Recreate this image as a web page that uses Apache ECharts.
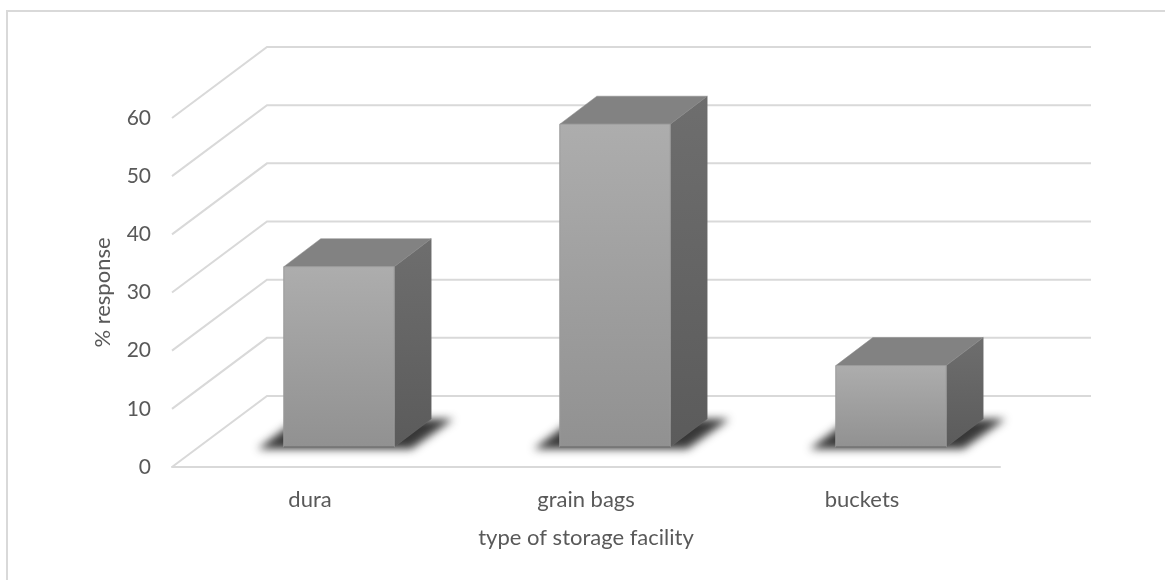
<!DOCTYPE html>
<html>
<head>
<meta charset="utf-8">
<style>html,body{margin:0;padding:0;background:#fff}#chart{width:1165px;height:580px}</style>
<script src="https://cdn.jsdelivr.net/npm/echarts@6/dist/echarts.min.js"></script>
</head>
<body>
<div id="chart"></div>
<script>
// Storage facility survey, drawn as a pseudo-3D column chart.
var categories = ['dura', 'grain bags', 'buckets'];
var responses = [31, 55.5, 14];
var wallTicks = [0, 10, 20, 30, 40, 50, 60];

// Oblique projection: how far the back wall sits from the front plane.
var WALL_DX = 95, WALL_DY = -71;
// Columns stand partway into the floor and have their own depth.
var BAR_SHIFT_X = 29, BAR_SHIFT_Y = -20;
var BAR_DX = 37, BAR_DY = -28;
var BAR_WIDTH_RATIO = 0.4;
// The floor shadow is painted away from the canvas so only its blurred copy lands on the floor.
var SHADOW_SHIFT = 3000;

var TEXT = '#595959', GRID = '#d9d9d9', FONT = 'Lato, sans-serif';

function poly(points, style, z2) {
  return { type: 'polygon', shape: { points: points }, style: style, z2: z2 || 0, silent: true };
}
function vGrad(a, b) {
  return new echarts.graphic.LinearGradient(0, 0, 0, 1, [
    { offset: 0, color: a }, { offset: 1, color: b }
  ]);
}

function renderWall(params, api) {
  var value = api.value(0);
  var front = api.coord([0, value]);
  var xStart = params.coordSys.x;
  var xEnd = xStart + params.coordSys.width;
  return {
    type: 'polyline',
    silent: true,
    shape: { points: [
      [xStart, front[1]],
      [xStart + WALL_DX, front[1] + WALL_DY],
      [xEnd + WALL_DX - 4, front[1] + WALL_DY]
    ] },
    style: { stroke: GRID, lineWidth: 2, fill: null }
  };
}

function floorShadow(l, r, b, dy) {
  var pts = [
    [l - 26, b + 2],
    [r + 17, b + 2],
    [r + BAR_DX + 22, b + dy],
    [l + 14, b + dy]
  ].map(function (p) { return [p[0] - SHADOW_SHIFT, p[1]]; });
  return poly(pts, {
    fill: '#000',
    shadowColor: 'rgba(45,45,45,0.95)',
    shadowBlur: 9,
    shadowOffsetX: SHADOW_SHIFT
  }, 1);
}

function renderColumn(params, api) {
  var idx = api.value(0);
  var base = api.coord([idx, 0]);
  var top = api.coord([idx, api.value(1)]);
  var w = api.size([1, 0])[0] * BAR_WIDTH_RATIO;
  var l = base[0] + BAR_SHIFT_X - w / 2;
  var r = l + w;
  var b = base[1] + BAR_SHIFT_Y;
  var t = top[1] + BAR_SHIFT_Y;
  var dx = BAR_DX, dy = BAR_DY;
  return {
    type: 'group',
    children: [
      floorShadow(l, r, b, dy),
      poly([[r, t], [r + dx, t + dy], [r + dx, b + dy], [r, b]], {
        fill: vGrad('#6e6e6e', '#5b5b5b'), stroke: '#6a6a6a', lineWidth: 0.5
      }, 2),
      poly([[l, t], [l + dx, t + dy], [r + dx, t + dy], [r, t]], {
        fill: '#828282', stroke: '#8a8a8a', lineWidth: 0.5
      }, 3),
      poly([[l, t], [r, t], [r, b], [l, b]], {
        fill: vGrad('#adadad', '#919191'), stroke: '#9a9a9a', lineWidth: 1
      }, 4),
      { type: 'line', silent: true, z2: 5, shape: { x1: l, y1: b, x2: r, y2: b },
        style: { stroke: '#707070', lineWidth: 1.5 } }
    ]
  };
}

var chart = echarts.init(document.getElementById('chart'), null, { renderer: 'canvas' });
chart.setOption({
  animation: false,
  backgroundColor: '#fff',
  textStyle: { fontFamily: FONT },
  graphic: [{
    type: 'rect', z: -1, silent: true,
    shape: { x: 7, y: 11, width: 1300, height: 700 },
    style: { fill: '#fff', stroke: GRID, lineWidth: 2 }
  }],
  grid: { left: 172, top: 118, width: 828, height: 349 },
  xAxis: {
    type: 'category',
    data: categories,
    name: 'type of storage facility',
    nameLocation: 'middle',
    nameGap: 60,
    nameTextStyle: { color: TEXT, fontSize: 22, fontFamily: FONT },
    axisLine: { show: true, lineStyle: { color: GRID, width: 2 } },
    axisTick: { show: false },
    axisLabel: { color: TEXT, fontSize: 22, fontFamily: FONT, margin: 22 }
  },
  yAxis: {
    type: 'value',
    min: 0, max: 60, interval: 10,
    name: '% response',
    nameLocation: 'middle',
    nameGap: 58,
    nameTextStyle: { color: TEXT, fontSize: 22, fontFamily: FONT },
    axisLine: { show: false },
    axisTick: { show: false },
    splitLine: { show: false },
    axisLabel: { color: TEXT, fontSize: 21, fontFamily: FONT, margin: 21, padding: [2, 0, 0, 0] }
  },
  series: [
    {
      name: 'walls',
      type: 'custom',
      coordinateSystem: 'cartesian2d',
      clip: false,
      z: 1,
      encode: { y: 0 },
      data: wallTicks.map(function (v) { return [v]; }),
      renderItem: renderWall
    },
    {
      name: 'response',
      type: 'custom',
      coordinateSystem: 'cartesian2d',
      clip: false,
      z: 2,
      encode: { x: 0, y: 1 },
      data: responses.map(function (v, i) { return [i, v]; }),
      renderItem: renderColumn
    }
  ]
});
</script>
</body>
</html>
